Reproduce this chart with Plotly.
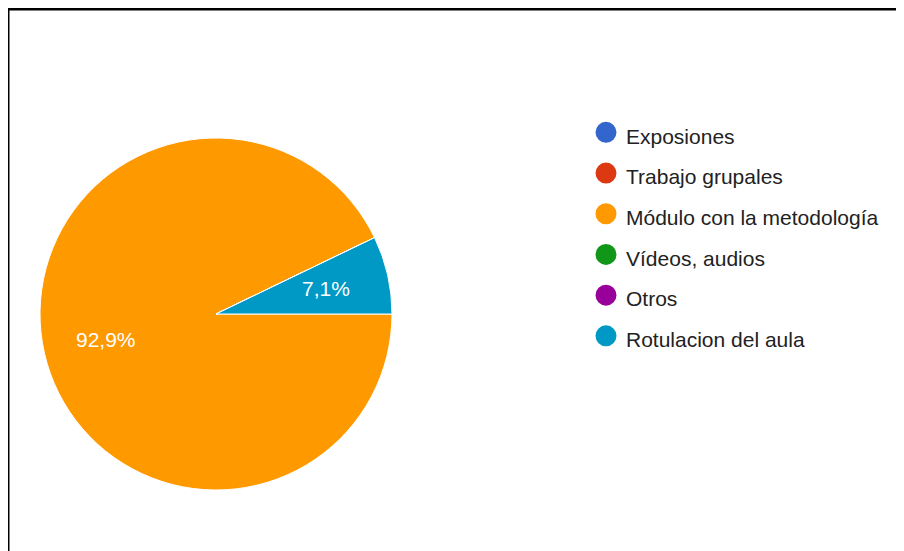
import math
import plotly.graph_objects as go

categories = ["Exposiones", "Trabajo grupales", "Módulo con la metodología",
              "Vídeos, audios", "Otros", "Rotulacion del aula"]
values = [0, 0, 13, 0, 0, 1]
colors = ["#3366cc", "#dc3912", "#ff9900", "#109618", "#990099", "#0099c6"]

W, H = 904, 551
cx, cy, r = 208, 306, 176      # pie centre / radius in figure pixels
start_deg = 90                 # first slice starts at 3 o'clock, clockwise
label_frac = 0.64              # label distance from centre (fraction of radius)

fig = go.Figure()
fig.add_trace(go.Pie(
    labels=categories, values=values, sort=False,
    direction="clockwise", rotation=start_deg,
    marker=dict(colors=colors, line=dict(color="white", width=1)),
    textinfo="none",
    showlegend=False, hoverinfo="label+percent",
    domain=dict(x=[(cx - r) / W, (cx + r) / W],
                y=[(H - cy - r) / H, (H - cy + r) / H]),
))

# percentage labels placed at each slice's mid-angle
total = sum(values)
acc = 0.0
for v in values:
    if v > 0:
        mid = start_deg + 360.0 * (acc + v / 2) / total
        th = math.radians(mid)
        px = cx + label_frac * r * math.sin(th)
        py = cy - label_frac * r * math.cos(th)
        pct = f"{100 * v / total:.1f}%".replace(".", ",")
        fig.add_annotation(
            x=px / W, y=1 - py / H, xref="paper", yref="paper",
            text=pct, showarrow=False, xanchor="center", yanchor="middle",
            font=dict(color="white", size=21, family="Liberation Sans, Arial, sans-serif"),
        )
    acc += v

for name, col in zip(categories, colors):
    fig.add_trace(go.Scatter(
        x=[None], y=[None], mode="markers",
        name=f'<span style="font-size:21px">{name}</span>',
        marker=dict(color=col, size=16, symbol="circle",
                    line=dict(color=col, width=5)),
        showlegend=True, hoverinfo="skip",
    ))

fig.update_layout(
    width=W, height=H,
    margin=dict(l=0, r=0, t=0, b=0),
    paper_bgcolor="white", plot_bgcolor="white",
    xaxis=dict(visible=False), yaxis=dict(visible=False),
    legend=dict(
        x=578 / W, y=1 - 99 / H, xanchor="left", yanchor="top",
        font=dict(size=29, color="#222222", family="Liberation Sans, Arial, sans-serif"),
        itemsizing="trace", bgcolor="rgba(0,0,0,0)",
    ),
    shapes=[dict(type="rect", xref="paper", yref="paper",
                 x0=0, x1=1.02, y0=-0.05, y1=1 - 1 / H,
                 line=dict(color="black", width=3))],
)

fig.write_html("out.html")
